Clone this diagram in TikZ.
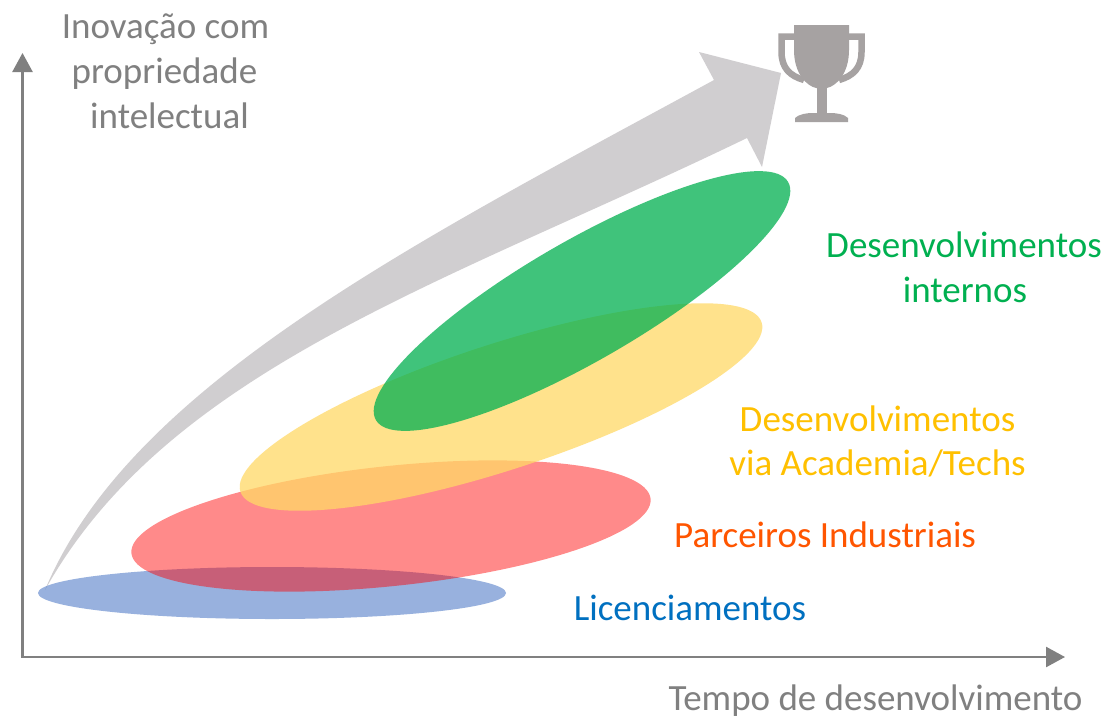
\documentclass[tikz,border=0pt]{standalone}
\usepackage{fontspec}
\setmainfont{Carlito}
\usetikzlibrary{arrows.meta}
\definecolor{axisgray}{RGB}{128,128,128}
\definecolor{arrowgray}{RGB}{208,206,208}
\definecolor{trophygray}{RGB}{166,162,162}
\definecolor{ellblue}{RGB}{68,114,196}
\definecolor{ellred}{RGB}{255,0,0}
\definecolor{ellyellow}{RGB}{255,217,102}
\definecolor{ellgreen}{RGB}{0,176,80}
\definecolor{txtgreen}{RGB}{0,176,80}
\definecolor{txtgold}{RGB}{255,192,0}
\definecolor{txtorange}{RGB}{255,85,0}
\definecolor{txtblue}{RGB}{0,112,192}
\definecolor{txtgray}{RGB}{128,128,128}
\begin{document}
\begin{tikzpicture}[x=1pt,y=-1pt,
  lbl/.style={anchor=base,inner sep=0pt,font=\fontsize{37}{44}\selectfont},
  axisline/.style={draw=axisgray,line width=2.5pt,line join=miter,
    {Triangle[length=19pt,width=20pt]}-{Triangle[length=19pt,width=20pt]}},
  trophy/.style={fill=trophygray,draw=none},
  handle/.style={draw=trophygray,line width=6.5pt}
]
\fill[white] (0,0) rectangle (1110,718);
\useasboundingbox (0,0) rectangle (1110,718);

% axes
\coordinate (origin) at (22.5,657);
\coordinate (ytop) at (22.5,53);
\coordinate (xend) at (1065,657);
\draw[axisline] (ytop) -- (origin) -- (xend);

% big curved gray arrow
\coordinate (tail) at (45,590);
\fill[arrowgray] (tail) .. controls (130,385) and (420,240) .. (714,80)
  -- (699,52) -- (781,73) -- (762,167) -- (747,138)
  .. controls (447,283) and (169,368) .. (tail) -- cycle;

% ellipses
\fill[ellblue, fill opacity=0.55] (272,593) ellipse [x radius=234pt, y radius=26pt];
\fill[ellred, fill opacity=0.46, rotate around={6:(391,526)}] (391,526) ellipse [x radius=261pt, y radius=60pt];
\fill[ellyellow, fill opacity=0.75, rotate around={18:(501,407)}] (501,407) ellipse [x radius=274pt, y radius=63pt];
\fill[ellgreen, fill opacity=0.75, rotate around={30:(582,301)}] (582,301) ellipse [x radius=238pt, y radius=60pt];

% trophy
\fill[trophy] (794,25) -- (849,25) -- (849,50) .. controls (849,74) and (836,86) .. (827,88)
  -- (816,88) .. controls (807,86) and (794,74) .. (794,50) -- cycle;
\draw[handle] (796,36.5) -- (781.5,36.5) -- (781.5,52) .. controls (781.5,68) and (790,76) .. (804,80);
\draw[handle] (847,36.5) -- (861.5,36.5) -- (861.5,52) .. controls (861.5,68) and (853,76) .. (839,80);
\fill[trophy] (816.5,86) rectangle (826.5,114);
\fill[trophy] (795,122) -- (848,122) -- (848,118) .. controls (844,114) and (836,113) .. (830,113)
  -- (813,113) .. controls (807,113) and (799,114) .. (795,118) -- cycle;

% labels
\node[lbl, text=txtgray] (inov1) at (165.5,38) {Inovação com};
\node[lbl, text=txtgray] (inov2) at (164.5,83) {propriedade};
\node[lbl, text=txtgray] (inov3) at (169.5,128) {intelectual};
\node[lbl, text=txtgreen] (int1) at (964,257) {Desenvolvimentos};
\node[lbl, text=txtgreen] (int2) at (965,302) {internos};
\node[lbl, text=txtgold] (acad1) at (877.5,431) {Desenvolvimentos};
\node[lbl, text=txtgold] (acad2) at (877.5,475) {via Academia/Techs};
\node[lbl, text=txtorange, anchor=base west] (parc) at (674,547) {Parceiros Industriais};
\node[lbl, text=txtblue] (lic) at (690,620) {Licenciamentos};
\node[lbl, text=txtgray] (tempo) at (875.5,710) {Tempo de desenvolvimento};
\end{tikzpicture}
\end{document}
